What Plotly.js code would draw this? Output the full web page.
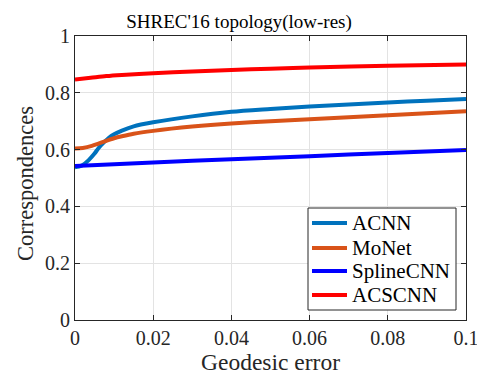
<!DOCTYPE html>
<html>
<head>
<meta charset="utf-8">
<script src="https://cdn.plot.ly/plotly-3.0.1.min.js"></script>
<style>html,body{margin:0;padding:0;background:#fff;}#chart{width:477px;height:379px;}</style>
</head>
<body>
<div id="chart"></div>
<script>
const acnnX = [0, 0.001, 0.002, 0.0035, 0.005, 0.006, 0.0075, 0.0086, 0.01, 0.012, 0.015, 0.02, 0.03, 0.04, 0.05, 0.06, 0.07, 0.08, 0.09, 0.1];
const acnnY = [0.538, 0.540, 0.546, 0.563, 0.586, 0.605, 0.627, 0.641, 0.654, 0.667, 0.682, 0.696, 0.717, 0.733, 0.743, 0.752, 0.759, 0.766, 0.772, 0.778];
const monetX = [0, 0.002, 0.0043, 0.006, 0.0078, 0.01, 0.012, 0.015, 0.02, 0.03, 0.04, 0.05, 0.06, 0.07, 0.08, 0.09, 0.1];
const monetY = [0.604, 0.606, 0.613, 0.621, 0.630, 0.640, 0.647, 0.656, 0.666, 0.681, 0.692, 0.700, 0.707, 0.714, 0.721, 0.728, 0.735];
const splineX = [0, 0.02, 0.04, 0.06, 0.08, 0.1];
const splineY = [0.542, 0.555, 0.566, 0.577, 0.588, 0.599];
const acscnnX = [0, 0.004, 0.008, 0.012, 0.02, 0.03, 0.04, 0.05, 0.06, 0.08, 0.1];
const acscnnY = [0.847, 0.853, 0.859, 0.863, 0.869, 0.875, 0.880, 0.885, 0.889, 0.895, 0.900];
const seriesNames = ['ACNN', 'MoNet', 'SplineCNN', 'ACSCNN'];
const xTicks = [0, 0.02, 0.04, 0.06, 0.08, 0.1];
const xTickLabels = ['0', '0.02', '0.04', '0.06', '0.08', '0.1'];
const yTicks = [0, 0.2, 0.4, 0.6, 0.8, 1];
const yTickLabels = ['0', '0.2', '0.4', '0.6', '0.8', '1'];

const colors = ['#0072BD', '#D95319', '#0000FF', '#FF0000'];
const xs = [acnnX, monetX, splineX, acscnnX];
const ys = [acnnY, monetY, splineY, acscnnY];
const FONT = '"Liberation Serif", "Times New Roman", serif';
const traces = seriesNames.map((n, i) => ({
  x: xs[i], y: ys[i], name: n, type: 'scatter', mode: 'lines', showlegend: false,
  line: {color: colors[i], width: 4, shape: 'spline', smoothing: 0.8}
}));

// plot area in pixels: left 75, right 466, top 36, bottom 320
const PL = 75, PW = 391, PB = 320, PH = 284;
const px = v => (v - PL) / PW;
const py = v => (PB - v) / PH;

// manual legend (box, swatches, labels)
const legBox = {x0: 308, x1: 456, y0: 208, y1: 310};
const legRows = [223, 248, 271, 295];
const shapes = [{type: 'rect', xref: 'paper', yref: 'paper',
  x0: px(legBox.x0), x1: px(legBox.x1), y0: py(legBox.y1), y1: py(legBox.y0),
  fillcolor: '#ffffff', line: {color: '#262626', width: 1}, layer: 'above'}];
const annotations = [];
seriesNames.forEach((n, i) => {
  shapes.push({type: 'line', xref: 'paper', yref: 'paper', x0: px(312), x1: px(347),
    y0: py(legRows[i]), y1: py(legRows[i]), line: {color: colors[i], width: 4}, layer: 'above'});
  annotations.push({text: n, xref: 'paper', yref: 'paper', x: px(350), y: py(legRows[i]),
    xanchor: 'left', yanchor: 'middle', showarrow: false,
    font: {family: FONT, size: 21, color: '#000'}});
});
annotations.push({text: 'Correspondences', xref: 'paper', yref: 'paper', x: px(25), y: py(184),
  xanchor: 'center', yanchor: 'middle', textangle: -90, showarrow: false,
  font: {family: FONT, size: 22.5, color: '#262626'}});

const axisCommon = {
  showline: true, linecolor: '#262626', linewidth: 1, mirror: 'ticks',
  ticks: 'inside', ticklen: 5, tickcolor: '#262626', tickwidth: 1,
  showgrid: true, gridcolor: '#e3e3e3', gridwidth: 1, zeroline: false,
  ticklabeloverflow: 'allow',
  tickfont: {family: FONT, size: 20, color: '#262626'}
};

const layout = {
  width: 477, height: 379,
  margin: {l: 75, r: 11, t: 36, b: 59},
  paper_bgcolor: '#fff', plot_bgcolor: '#fff',
  font: {family: FONT},
  title: {text: "SHREC'16 topology(low-res)", font: {family: FONT, size: 19, color: '#000'},
          xref: 'container', yref: 'container', x: 239/477, xanchor: 'center', y: 1 - 21/379, yanchor: 'middle'},
  xaxis: Object.assign({}, axisCommon, {range: [0, 0.1], tickvals: xTicks, ticktext: xTickLabels,
    title: {text: 'Geodesic error', font: {family: FONT, size: 23.5, color: '#262626'}, standoff: 4}}),
  yaxis: Object.assign({}, axisCommon, {range: [0, 1], tickvals: yTicks, ticktext: yTickLabels}),
  showlegend: false,
  shapes: shapes,
  annotations: annotations
};

Plotly.newPlot('chart', traces, layout, {displayModeBar: false, staticPlot: true});
</script>
</body>
</html>
